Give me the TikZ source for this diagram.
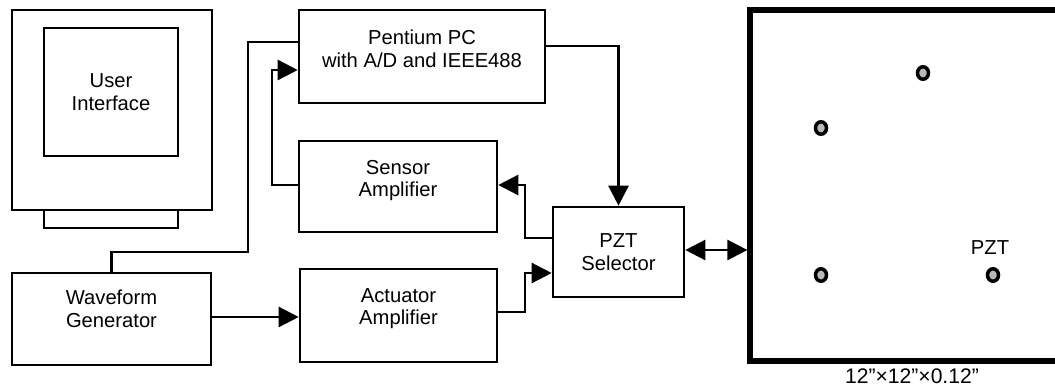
\documentclass[tikz,border=0pt]{standalone}
\usepackage{fontspec}
\setmainfont{Liberation Sans}
\usetikzlibrary{arrows.meta}

\tikzset{
  bloc/.style={draw, line width=1.5pt, align=center, inner sep=0pt,
    font=\fontsize{11.5}{13}\selectfont},
  haut/.style={text depth=0.32cm},
  fil/.style={line width=1.4pt},
  fleche/.style={fil, -{Triangle[length=0.4cm,width=0.4cm]}},
  double/.style={fil, {Triangle[length=0.4cm,width=0.4cm]}-{Triangle[length=0.4cm,width=0.4cm]}},
  pastille/.style={draw, line width=2pt, fill=gray!55},
}

\begin{document}
\begin{tikzpicture}[x=0.02cm, y=-0.02cm]
        \useasboundingbox (0,0) rectangle (1055,389);

        % Moniteur et interface
        \node[bloc, minimum width=4cm, minimum height=4cm] (moniteur) at (112,110) {};
        \node[bloc, minimum width=2.68cm, minimum height=0.36cm] (socle) at (111,219) {};
        \node[bloc, minimum width=2.68cm, minimum height=2.56cm] (ecran) at (111,92) {User\\Interface};

        % Blocs de la chaine
        \node[bloc, haut, minimum width=4.92cm, minimum height=1.86cm] (pc) at (422,56.5) {Pentium PC\\with A/D and IEEE488};
        \node[bloc, haut, minimum width=3.96cm, minimum height=1.82cm] (capteur) at (398,186.5) {Sensor\\Amplifier};
        \node[bloc, haut, text depth=0.36cm, minimum width=3.94cm, minimum height=1.86cm] (actionneur) at (398.5,315.5) {Actuator\\Amplifier};
        \node[bloc, haut, text depth=0.42cm, minimum width=3.98cm, minimum height=1.84cm] (generateur) at (111.5,319) {Waveform\\Generator};
        \node[bloc, minimum width=2.62cm, minimum height=1.8cm] (selecteur) at (618.5,252) {PZT\\Selector};

        % Plaque et pastilles PZT
        \node[draw, line width=3pt, minimum width=6.16cm, minimum height=7.02cm] (plaque) at (904,185.5) {};
        \foreach \px/\py in {923/73, 821/128, 821/275, 993/275}
            \draw[pastille] (\px,\py) ellipse [x radius=0.11cm, y radius=0.125cm];
        \node[font=\fontsize{11.5}{13}\selectfont] (pzt) at (990,248) {PZT};
        \node[font=\fontsize{12}{14}\selectfont] (dimensions) at (912,376) {12”×12”×0.12”};

        % Liaisons
        \draw[fil] (generateur.north) |- (248,252) |- (pc.west |- 0,42);
        \draw[fleche] (capteur.west |- 0,185) -| (272,70) -- (pc.west |- 0,70);
        \draw[fleche] (pc.east |- 0,46) -| (selecteur.north);
        \draw[fleche] (selecteur.west |- 0,238) -| (525,185) -- (capteur.east |- 0,185);
        \draw[fleche] (actionneur.east |- 0,312) -| (525,273) -- (selecteur.west |- 0,273);
        \draw[fleche] (generateur.east |- 0,317) -- (actionneur.west |- 0,317);
        \draw[double] (selecteur.east |- 0,250) -- (plaque.west |- 0,250);
    \end{tikzpicture}
\end{document}
